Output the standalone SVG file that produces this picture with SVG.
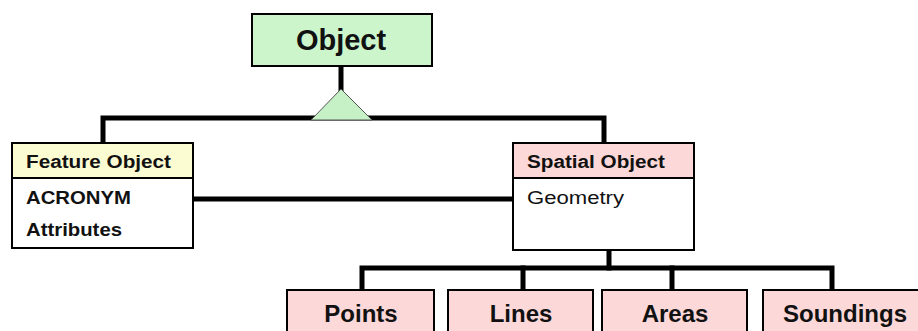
<svg xmlns="http://www.w3.org/2000/svg" width="918" height="331" viewBox="0 0 918 331">
<style>
.ln{stroke:#000;stroke-width:5;fill:none;stroke-linejoin:miter;stroke-linecap:square}
.bx{stroke:#000;stroke-width:2}
.t{font-family:"Liberation Sans",Arial,sans-serif;font-weight:bold;fill:#111}
.big{font-size:24px;text-anchor:middle}
.sm{font-size:18px}
</style>
<rect width="918" height="331" fill="#fff"/>
<g id="connectors">
<line class="ln" x1="341" y1="66" x2="341" y2="90"/>
<polyline class="ln" points="103,141 103,118 604,118 604,141"/>
<line class="ln" x1="193" y1="199" x2="513" y2="199"/>
<line class="ln" x1="609" y1="250" x2="609" y2="268"/>
<polyline class="ln" points="362,289 362,268 832,268 832,289"/>
<line class="ln" x1="523" y1="268" x2="523" y2="289"/>
<line class="ln" x1="672" y1="268" x2="672" y2="289"/>
<polygon points="341,89 311,120 372,120" fill="#c6f0c6" stroke="#555" stroke-width="1"/>
</g>
<g id="object">
<rect class="bx" x="252" y="14" width="180" height="52" fill="#ccf5cc"/>
<text class="t" x="341" y="50" font-size="29" text-anchor="middle">Object</text>
</g>
<g id="feature">
<rect class="bx" x="12" y="143" width="181" height="105" fill="#fff"/>
<rect class="bx" x="12" y="143" width="181" height="35" fill="#fcfcd2"/>
<text class="t sm" x="26" y="168" textLength="145" lengthAdjust="spacingAndGlyphs">Feature Object</text>
<text class="t sm" x="26" y="204" textLength="105" lengthAdjust="spacingAndGlyphs">ACRONYM</text>
<text class="t sm" x="26" y="236" textLength="96" lengthAdjust="spacingAndGlyphs">Attributes</text>
</g>
<g id="spatial">
<rect class="bx" x="513" y="143" width="181" height="107" fill="#fff"/>
<rect class="bx" x="513" y="143" width="181" height="35" fill="#fcd8d8"/>
<text class="t sm" x="527" y="168" textLength="138" lengthAdjust="spacingAndGlyphs">Spatial Object</text>
<text class="t sm" x="527" y="204" textLength="97" lengthAdjust="spacingAndGlyphs" style="font-weight:normal">Geometry</text>
</g>
<g id="points">
<rect class="bx" x="287" y="290" width="147" height="50" fill="#fcd8d8"/>
<text class="t big" x="361" y="322">Points</text>
</g>
<g id="lines">
<rect class="bx" x="448" y="290" width="145" height="50" fill="#fcd8d8"/>
<text class="t big" x="521" y="322">Lines</text>
</g>
<g id="areas">
<rect class="bx" x="602" y="290" width="145" height="50" fill="#fcd8d8"/>
<text class="t big" x="675" y="322">Areas</text>
</g>
<g id="soundings">
<rect class="bx" x="763" y="290" width="170" height="50" fill="#fcd8d8"/>
<text class="t big" x="845" y="322">Soundings</text>
</g>
</svg>
